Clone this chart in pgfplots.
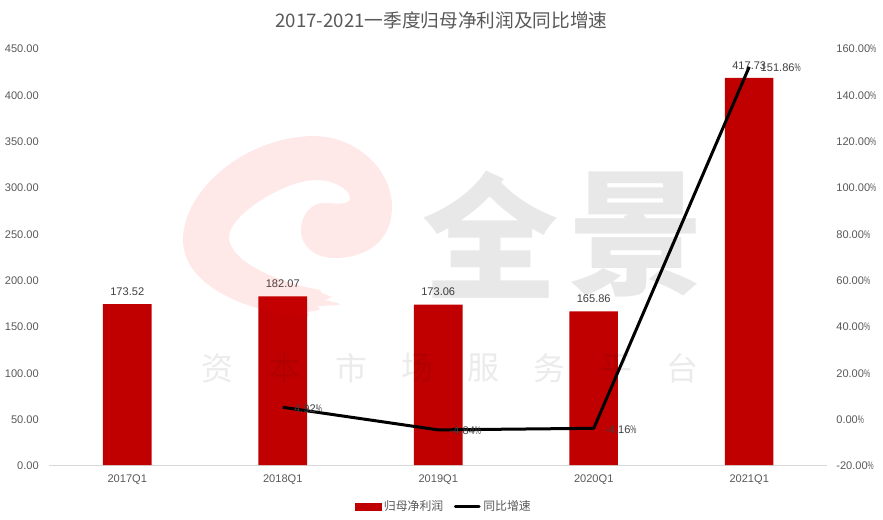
\documentclass[border=0pt]{standalone}
\usepackage{fontspec}
\usepackage{graphicx}
\usepackage{pgfplots}
\pgfplotsset{compat=1.18}
\setmainfont{Liberation Sans}
\newfontfamily\cjk{Noto Sans CJK SC}
\newfontfamily\cjkb{Noto Sans CJK SC Black}
\definecolor{barred}{HTML}{C00000}
\definecolor{txt}{HTML}{595959}
\definecolor{lab}{HTML}{404040}
\definecolor{axl}{HTML}{D9D9D9}
\newcommand{\npc}{\scalebox{0.62}[1]{\%}}
\pgfplotsset{base/.style={
  scale only axis, width=583.1pt, height=312.75pt,
  at={(37.125pt,-348.75pt)}, anchor=south west,
  xmin=-0.5, xmax=4.5, clip=false,
  tick style={draw=none}, major tick length=0pt,
  /pgf/number format/assume math mode=true,
  ticklabel style={font=\fontsize{8.3}{10}\selectfont, text=txt},
}}
\begin{document}
\begin{tikzpicture}[x=0.75pt,y=-0.75pt]
\path[use as bounding box,fill=white] (0,0) rectangle (883,519);
\node[font=\cjk\fontsize{14}{16}\selectfont,text=txt] at (441.5,20) {2017-2021一季度归母净利润及同比增速};
\begin{axis}[base,
  axis x line*=bottom, axis y line*=left,
  x axis line style={draw=axl,line width=0.75pt,-},
  y axis line style={draw=none},
  ymin=0, ymax=450, ytick={0,50,...,450},
  xtick={0,1,2,3,4}, xticklabels={2017Q1,2018Q1,2019Q1,2020Q1,2021Q1},
  xticklabel style={yshift=-3.5pt},
  yticklabel style={/pgf/number format/fixed,/pgf/number format/fixed zerofill,/pgf/number format/precision=2,xshift=-4.5pt,yshift=-0.75pt},
  ybar, bar width=36.4pt,
  nodes near coords={\pgfmathprintnumber[fixed,fixed zerofill,precision=2]{\pgfplotspointmeta}},
  every node near coord/.append style={font=\fontsize{8.3}{10}\selectfont,text=lab,yshift=3pt},
]
\addplot[fill=barred,draw=none,bar shift=0pt] coordinates {(0,173.52) (1,182.07) (2,173.06) (3,165.86) (4,417.73)};
\end{axis}
% watermark
\fill[red,opacity=0.09] (313,136) .. controls (245,137) and (183,190) .. (183,240)
  .. controls (183,285) and (245,312) .. (306,317) -- (309,316) -- (307.5,312) -- (320,310) -- (318,306) -- (340,305) -- (338,303) -- (325,300) -- (332,297) -- (322,293) -- (320,290)
  .. controls (280,283) and (229,262) .. (229,237)
  .. controls (229,215) and (285,180) .. (316,180)
  .. controls (335,180) and (350,190) .. (350,198)
  .. controls (350,206) and (333,203) .. (324,203)
  .. controls (311,203) and (301,215) .. (301,230)
  .. controls (301,247) and (316,258) .. (334,258)
  .. controls (368,258) and (392,240) .. (392,207)
  .. controls (392,170) and (357,136) .. (313,136) -- cycle;
\node[font=\cjkb\fontsize{102}{102}\selectfont,text=black,opacity=0.09] at (490,235) {全};
\node[font=\cjkb\fontsize{102}{102}\selectfont,text=black,opacity=0.09] at (636,235) {景};
\foreach \c/\xx in {资/217.5,本/284,市/351,场/417.5,服/483.6,务/549.6,平/616,台/682.5}
  \node[font=\cjk\fontsize{24}{24}\selectfont,text=black,opacity=0.08] at (\xx,368) {\c};
\begin{axis}[base,
  axis x line=none, axis y line*=right,
  y axis line style={draw=none},
  ymin=-20, ymax=160, ytick={-20,0,...,160},
  yticklabel={\pgfmathprintnumber[fixed,fixed zerofill,precision=2]{\tick}\npc},
  yticklabel style={xshift=3.5pt,yshift=-0.75pt},
  legend columns=2,
  legend style={draw=none,fill=none,at={(0.5075,-0.1),},anchor=center,
    font=\cjk\fontsize{8.9}{11}\selectfont,text=txt,
    /tikz/every even column/.append style={column sep=6pt}},
]
\addlegendimage{legend image code/.code={\fill[barred] (0pt,-2.3pt) rectangle (19.5pt,2.3pt);}}
\addlegendentry{归母净利润}
\addplot[black,line width=2.25pt,line join=round,
  legend image code/.code={\draw[black,line width=2.25pt,line cap=round] (2.2pt,0pt) -- (20pt,0pt);},
  nodes near coords={\pgfmathprintnumber[fixed,fixed zerofill,precision=2]{\pgfplotspointmeta}\npc},
  every node near coord/.append style={font=\fontsize{8.3}{10}\selectfont,text=lab,anchor=west,inner sep=0pt,xshift=7.5pt,yshift=-0.9pt},
] coordinates {(1,4.92) (2,-4.84) (3,-4.16) (4,151.86)};
\addlegendentry{同比增速}
\end{axis}
\end{tikzpicture}
\end{document}
